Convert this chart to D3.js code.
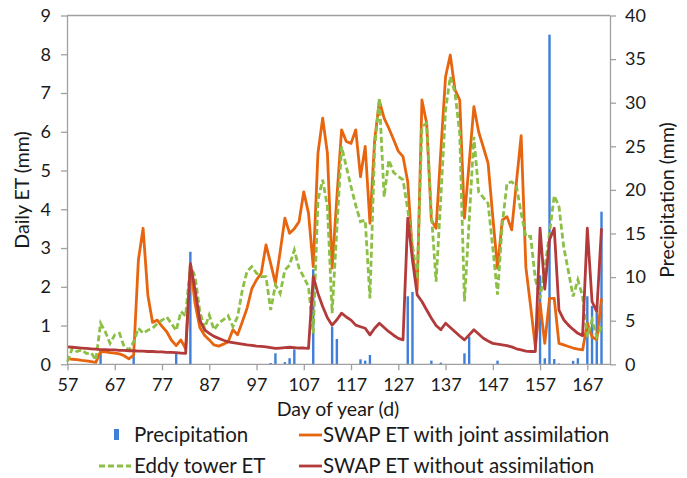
<!DOCTYPE html>
<html>
<head>
<meta charset="utf-8">
<script src="https://cdn.jsdelivr.net/npm/d3@7"></script>
<style>
  body { margin: 0; background: #fff; }
  text { font-family: Lato, "Open Sans", sans-serif; fill: #1a1a1a; }
</style>
</head>
<body>
<svg width="687" height="478"></svg>
<script>
// day of year, 57 .. 170
const days = d3.range(57, 171);

// SWAP ET with joint assimilation (mm)
const etJoint = [
  0.15,0.13,0.12,0.10,0.09,0.07,0.05,0.33,0.32,0.30,
  0.29,0.27,0.22,0.14,0.24,2.69,3.51,1.79,1.08,1.14,
  0.98,0.84,0.62,0.48,0.63,0.40,2.56,1.57,0.95,0.75,
  0.63,0.50,0.47,0.52,0.58,0.89,0.76,1.10,1.45,1.95,
  2.18,2.35,3.08,2.60,2.09,2.90,3.77,3.38,3.50,3.68,
  4.45,3.90,2.52,5.45,6.35,5.45,2.48,4.30,6.05,5.75,
  5.70,6.05,4.84,5.62,3.64,5.79,6.80,6.35,6.09,5.80,
  5.50,5.36,4.71,2.86,1.92,6.82,6.22,3.72,3.51,5.50,
  7.42,7.98,7.08,6.82,3.77,5.20,6.65,6.00,5.60,5.19,
  3.80,2.48,3.72,3.81,3.47,4.70,5.90,2.50,1.50,0.45,
  1.57,0.54,1.70,1.70,0.54,0.50,0.46,0.42,0.39,0.37,
  1.06,0.71,0.63,1.70
];

// Eddy tower ET (mm)
const etEddy = [
  0.07,0.41,0.33,0.37,0.28,0.30,0.11,1.06,0.84,0.54,
  0.76,0.80,0.45,0.37,0.58,0.93,0.80,0.88,0.93,1.05,
  1.14,1.22,1.05,0.87,1.36,1.25,2.56,2.26,1.36,0.93,
  1.27,0.89,1.06,1.15,1.25,0.97,1.23,1.92,2.40,2.52,
  2.35,2.26,2.26,1.40,2.05,1.83,2.43,2.56,2.95,2.48,
  2.25,2.00,0.80,4.24,4.76,4.07,1.32,3.50,5.62,5.10,
  4.58,4.10,3.68,3.72,1.70,5.60,6.86,4.32,5.27,4.95,
  4.85,4.76,3.98,3.08,2.18,6.13,6.22,3.90,2.13,4.30,
  6.56,7.42,7.00,5.96,1.62,3.70,5.87,4.45,4.30,4.15,
  3.00,1.80,3.60,4.67,4.71,4.60,3.90,3.30,3.30,2.20,
  1.70,2.45,3.40,4.35,4.07,3.03,2.40,1.75,2.18,1.75,
  0.71,1.14,0.71,0.97
];

// SWAP ET without assimilation (mm)
const etNoAssim = [
  0.45,0.44,0.43,0.42,0.41,0.40,0.39,0.38,0.38,0.37,
  0.37,0.36,0.36,0.35,0.35,0.34,0.34,0.33,0.33,0.32,
  0.32,0.31,0.31,0.30,0.29,0.28,2.60,1.92,1.14,0.89,
  0.80,0.72,0.67,0.62,0.58,0.56,0.54,0.52,0.50,0.49,
  0.47,0.46,0.45,0.43,0.41,0.42,0.43,0.44,0.43,0.42,
  0.42,0.41,2.26,1.83,1.49,1.20,1.01,1.15,1.32,1.22,
  1.14,1.01,0.97,0.93,0.76,0.93,1.06,0.95,0.84,0.75,
  0.67,0.63,3.77,2.69,1.79,1.62,1.40,1.19,1.00,0.89,
  1.06,0.95,0.84,0.73,0.63,0.76,0.89,0.78,0.67,0.60,
  0.54,0.52,0.50,0.48,0.45,0.40,0.37,0.34,0.33,0.33,
  3.51,1.94,3.21,3.51,1.40,1.15,1.01,0.90,0.80,0.74,
  3.51,1.62,1.36,3.51
];

// precipitation (mm), only rainy days
const rainDays = [64,71,80,83,100,101,103,104,105,109,113,114,119,120,121,129,130,134,136,141,142,148,157,158,159,160,161,164,165,167,168,169,170];
const rainMm   = [1.45,1.07,1.2,12.9,0.15,1.26,0.25,0.7,1.72,10.9,4.3,2.9,0.57,0.42,1.07,7.8,8.3,0.42,0.19,1.26,3.2,0.42,10.2,0.69,37.8,0.6,0.1,0.4,0.69,7.8,6.7,5.9,17.5];

const xTicks = [57,67,77,87,97,107,117,127,137,147,157,167];
const etTicks = [0,1,2,3,4,5,6,7,8,9];
const rainTicks = [0,5,10,15,20,25,30,35,40];

const plotL = 67, plotR = 610, plotT = 15.5, plotB = 364.3,
  axisGrey = "#a0a0a0";

const svg = d3.select("svg");

const x = d3.scaleLinear().domain([57, 171.8]).range([plotL + 0.5, plotR]);
const yEt = d3.scaleLinear().domain([0, 9]).range([plotB, plotT]);
const yRain = d3.scaleLinear().domain([0, 40]).range([plotB, plotT]);

// frame top line
svg.append("line")
  .attr("x1", plotL).attr("x2", plotR)
  .attr("y1", plotT).attr("y2", plotT)
  .attr("stroke", axisGrey).attr("stroke-width", 1.3);

// precipitation bars
svg.append("g")
  .selectAll("rect")
  .data(rainDays.map((d, i) => ({day: d, mm: rainMm[i]})))
  .enter()
  .append("rect")
  .attr("x", d => x(d.day) - 1.2)
  .attr("width", 2.4)
  .attr("y", d => yRain(d.mm))
  .attr("height", d => plotB - yRain(d.mm))
  .attr("fill", "#3f7fd9");

const line = vals => d3.line()
  .x((d, i) => x(days[i]))
  .y(d => yEt(d))(vals);

svg.append("path")
  .attr("d", line(etJoint))
  .attr("fill", "none")
  .attr("stroke", "#e8650f")
  .attr("stroke-width", 2.8)
  .attr("stroke-linejoin", "round");

svg.append("path")
  .attr("d", line(etEddy))
  .attr("fill", "none")
  .attr("stroke", "#8cbf45")
  .attr("stroke-width", 2.8)
  .attr("stroke-dasharray", "6,3");

svg.append("path")
  .attr("d", line(etNoAssim))
  .attr("fill", "none")
  .attr("stroke", "#b33a3a")
  .attr("stroke-width", 2.8)
  .attr("stroke-linejoin", "round");

// axes
function styleAxis(g) {
  g.select(".domain").attr("stroke", axisGrey).attr("stroke-width", 1.3);
  g.selectAll(".tick line").attr("stroke", axisGrey).attr("stroke-width", 1.3);
  g.selectAll(".tick text")
    .attr("fill", "#1a1a1a")
    .style("font-size", "18px")
    .style("font-family", "Lato, 'Open Sans', sans-serif");
}

svg.append("g")
  .attr("transform", `translate(${plotL},0)`)
  .call(d3.axisLeft(yEt).tickValues(etTicks).tickFormat(d3.format("d"))
    .tickSizeInner(6).tickSizeOuter(0).tickPadding(10))
  .call(styleAxis);

svg.append("g")
  .attr("transform", `translate(${plotR},0)`)
  .call(d3.axisRight(yRain).tickValues(rainTicks).tickFormat(d3.format("d"))
    .tickSizeInner(6).tickSizeOuter(0).tickPadding(9))
  .call(styleAxis);

svg.append("g")
  .attr("transform", `translate(0,${plotB})`)
  .call(d3.axisBottom(x).tickValues(xTicks).tickFormat(d3.format("d"))
    .tickSizeInner(6).tickSizeOuter(0).tickPadding(8))
  .call(g => g.select(".domain").attr("d", `M${plotL},0H${plotR}`))
  .call(styleAxis);

// axis titles
svg.append("text")
  .attr("transform", "translate(29,190) rotate(-90)")
  .attr("text-anchor", "middle")
  .style("font-size", "19.5px")
  .text("Daily ET (mm)");

svg.append("text")
  .attr("transform", "translate(674,200) rotate(-90)")
  .attr("text-anchor", "middle")
  .style("font-size", "19.5px")
  .text("Precipitation (mm)");

svg.append("text")
  .attr("x", 338).attr("y", 416)
  .attr("text-anchor", "middle")
  .style("font-size", "19.5px")
  .text("Day of year (d)");

// legend
const legend = svg.append("g").style("font-size", "20.5px");

legend.append("rect")
  .attr("x", 114).attr("y", 429).attr("width", 5).attr("height", 11)
  .attr("fill", "#3f7fd9");
legend.append("text").attr("x", 134).attr("y", 442).text("Precipitation");

legend.append("line")
  .attr("x1", 299).attr("x2", 322).attr("y1", 435).attr("y2", 435)
  .attr("stroke", "#e8650f").attr("stroke-width", 2.8);
legend.append("text").attr("x", 323).attr("y", 442).text("SWAP ET with joint assimilation");

legend.append("line")
  .attr("x1", 99).attr("x2", 131).attr("y1", 466).attr("y2", 466)
  .attr("stroke", "#8cbf45").attr("stroke-width", 2.8)
  .attr("stroke-dasharray", "6,3");
legend.append("text").attr("x", 134).attr("y", 473).text("Eddy tower ET");

legend.append("line")
  .attr("x1", 299).attr("x2", 322).attr("y1", 466).attr("y2", 466)
  .attr("stroke", "#b33a3a").attr("stroke-width", 2.8);
legend.append("text").attr("x", 323).attr("y", 473).text("SWAP ET without assimilation");
</script>
</body>
</html>
